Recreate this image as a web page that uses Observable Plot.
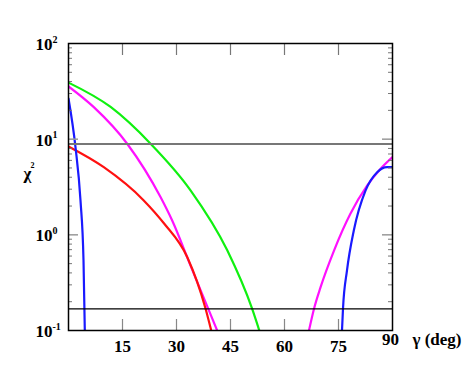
<!DOCTYPE html>
<html>
<head>
<meta charset="utf-8">
<script src="https://cdn.jsdelivr.net/npm/d3@7"></script>
<script src="https://cdn.jsdelivr.net/npm/@observablehq/plot@0.6"></script>
<style>
  html, body { margin: 0; padding: 0; background: #fff; }
  #chart svg text { font-family: "Liberation Serif", "DejaVu Serif", serif !important; font-weight: bold; }
</style>
</head>
<body>
<div id="chart"></div>
<script>
// ---- data ----
const greenX = [0, 11.7, 22.8, 33.9, 44.1, 51, 53];
const greenY = [39, 21.7, 8.97, 2.92, 0.689, 0.169, 0.1];

const magentaAX = [0, 7.03, 16.3, 25.56, 28.8, 33.7, 38.8, 41.3];
const magentaAY = [35.6, 21.6, 8.96, 2.48, 1.41, 0.498, 0.169, 0.1];

const magentaBX = [66.8, 68.2, 70, 73.7, 78.3, 83.0, 86.7, 90];
const magentaBY = [0.1, 0.169, 0.282, 0.676, 1.66, 3.28, 4.9, 6.49];

const redX = [0, 9.8, 20.9, 26.5, 33.0, 38.1, 39.65];
const redY = [8.38, 5.09, 2.29, 1.32, 0.583, 0.168, 0.1];

const blueAX = [0, 1.94, 3.33, 4.17, 4.53];
const blueAY = [26.6, 8.24, 2.29, 0.54, 0.1];

const blueBX = [75.97, 76.25, 77.36, 79.25, 82.5, 85.75, 88.5, 90];
const blueBY = [0.1, 0.169, 0.424, 1.11, 2.9, 4.52, 5.1, 5.1];

const grayLevel = [8.9];
const blackLevel = [0.168];

const xTickValues = [15, 30, 45, 60, 75];
const xLabelValues = [15, 30, 45, 60, 75];
const xLastLabel = [90];
const xTitle = "γ (deg)";
const yDecades = [100, 10, 1, 0.1];
const yExponents = ["2", "1", "0", "-1"];
const yMajorInner = [10, 1];
const yMinor = [0.2,0.3,0.4,0.5,0.6,0.7,0.8,0.9, 2,3,4,5,6,7,8,9, 20,30,40,50,60,70,80,90];
const yTitle = "χ";
const yTitleSup = "2";

// ---- build series table ----
function series(name, xs, ys, color) {
  return xs.map((x, i) => ({name, x, y: ys[i], color}));
}
const curves = [
  ...series("green", greenX, greenY, "#10f010"),
  ...series("magentaA", magentaAX, magentaAY, "#ff10ff"),
  ...series("magentaB", magentaBX, magentaBY, "#ff10ff"),
  ...series("red", redX, redY, "#ff1010"),
  ...series("blueA", blueAX, blueAY, "#1a1aff"),
  ...series("blueB", blueBX, blueBY, "#1a1aff")
];

const W = 468, H = 380;
const mL = 68, mR = 76, mT = 43, mB = 50;
const pw = W - mL - mR, ph = H - mT - mB;
const font = "'Liberation Serif', 'DejaVu Serif', serif";
const txt = {fontFamily: font, fontWeight: "bold", fill: "#000"};

const chart = Plot.plot({
  width: W, height: H,
  marginLeft: mL, marginRight: mR, marginTop: mT, marginBottom: mB,
  style: {background: "#fff", fontFamily: font},
  x: {domain: [0, 90], axis: null},
  y: {type: "log", domain: [0.1, 100], axis: null},
  marks: [
    // curves
    Plot.line(curves, {x: "x", y: "y", z: "name", stroke: "color", strokeWidth: 2.2, curve: "monotone-x", clip: true}),
    // horizontal reference levels
    Plot.ruleY(grayLevel, {stroke: "#777", strokeWidth: 2.2}),
    Plot.ruleY(blackLevel, {stroke: "#000", strokeWidth: 1.3}),
    // inner ticks: y minor (left/right)
    Plot.tickY(yMinor, {y: d => d, insetRight: pw - 4, stroke: "#777"}),
    Plot.tickY(yMinor, {y: d => d, insetLeft: pw - 4, stroke: "#777"}),
    Plot.tickY(yMajorInner, {y: d => d, insetRight: pw - 10, stroke: "#999", strokeWidth: 1.5}),
    Plot.tickY(yMajorInner, {y: d => d, insetLeft: pw - 10, stroke: "#999", strokeWidth: 1.5}),
    // inner ticks: x (bottom/top)
    Plot.tickX(xTickValues, {x: d => d, insetTop: ph - 11, stroke: "#888", strokeWidth: 1.2}),
    Plot.tickX(xTickValues, {x: d => d, insetBottom: ph - 12, stroke: "#777", strokeWidth: 1.2}),
    Plot.frame({stroke: "#000", strokeWidth: 1.5}),
    // y labels
    Plot.text(yDecades, {y: d => d, text: () => "10", frameAnchor: "left", dx: -16, dy: 1, textAnchor: "end",
      fontSize: 17, ...txt}),
    Plot.text(yDecades, {y: d => d, text: (d, i) => yExponents[i], frameAnchor: "left", dx: -16, dy: -4, textAnchor: "start",
      fontSize: 10, ...txt}),
    // x labels
    Plot.text(xLabelValues, {x: d => d, text: d => String(d), frameAnchor: "bottom", dy: 21,
      fontSize: 17, ...txt}),
    Plot.text(xLastLabel, {x: d => d, text: d => String(d), frameAnchor: "bottom", dy: 14, dx: -2,
      fontSize: 17, ...txt}),
    Plot.text(xLastLabel, {x: d => d, text: () => xTitle, frameAnchor: "bottom", dy: 14, dx: 20, textAnchor: "start",
      fontSize: 17, ...txt}),
    // y title
    Plot.text([yTitle], {text: d => d, frameAnchor: "left", dx: -45, dy: -13,
      fontSize: 17, ...txt}),
    Plot.text([yTitleSup], {text: d => d, frameAnchor: "left", dx: -38, dy: -22, textAnchor: "start",
      fontSize: 8, ...txt})
  ]
});
document.getElementById("chart").appendChild(chart);
</script>
</body>
</html>
